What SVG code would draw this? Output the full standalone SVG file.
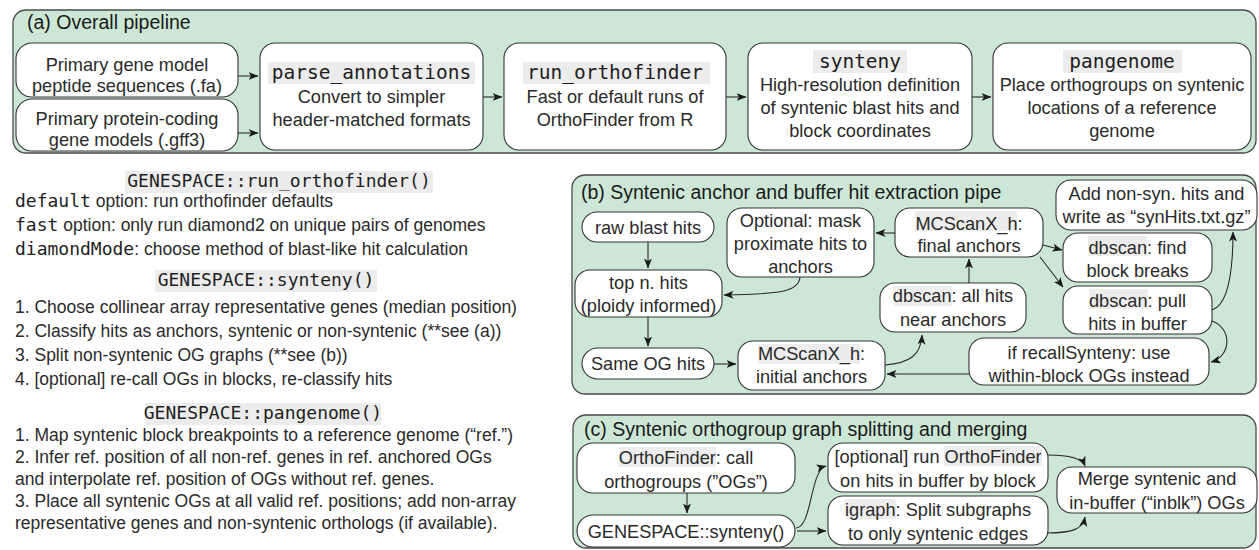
<svg xmlns="http://www.w3.org/2000/svg" width="1259" height="550" viewBox="0 0 1259 550">
<style>
.panel{fill:#cde7d6;stroke:#4a4a4a;stroke-width:1.3}
.node{fill:#ffffff;stroke:#333;stroke-width:1.1}
.t{font-family:"Liberation Sans",Arial,sans-serif;font-size:18.2px;fill:#2a2a2a;text-anchor:middle}
.title{font-family:"Liberation Sans",Arial,sans-serif;font-size:19.5px;fill:#1a1a1a}
.lt{font-family:"Liberation Sans",Arial,sans-serif;font-size:17.5px;fill:#2a2a2a}
.code{font-family:"DejaVu Sans Mono","Liberation Mono",monospace;fill:#1e1e1e}
.hl{fill:#ececec}
.hlw{fill:#ededed}
.edge{fill:none;stroke:#2a2a2a;stroke-width:1.1}
</style>
<defs>
<marker id="ah" viewBox="0 0 10 8" refX="9.5" refY="4" markerWidth="10" markerHeight="8" markerUnits="userSpaceOnUse" orient="auto">
<path d="M0,0 L10,4 L0,8 L2.5,4 z" fill="#1a1a1a"/>
</marker>
</defs>

<!-- Panel (a) -->
<g id="panel-a">
<rect class="panel" x="13" y="10" width="1243" height="143" rx="13"/>
<text class="title" x="27" y="29">(a) Overall pipeline</text>
</g>
<g id="a-input1">
<rect class="node" x="16" y="43" width="222" height="54" rx="16"/>
<text class="t" x="127" y="71">Primary gene model</text>
<text class="t" x="127" y="92">peptide sequences (.fa)</text>
</g>
<g id="a-input2">
<rect class="node" x="16" y="99" width="222" height="52" rx="16"/>
<text class="t" x="127" y="125">Primary protein-coding</text>
<text class="t" x="127" y="146">gene models (.gff3)</text>
</g>
<g id="a-parse">
<rect class="node" x="260" y="43" width="223" height="107" rx="15"/>
<rect class="hl" x="268" y="62" width="207" height="22"/>
<text class="code" x="371.5" y="79" font-size="19.5" text-anchor="middle">parse_annotations</text>
<text class="t" x="371.5" y="103">Convert to simpler</text>
<text class="t" x="371.5" y="126">header-matched formats</text>
</g>
<g id="a-runof">
<rect class="node" x="504" y="43" width="222" height="107" rx="15"/>
<rect class="hl" x="523" y="62" width="187" height="22"/>
<text class="code" x="615" y="79" font-size="19.5" text-anchor="middle">run_orthofinder</text>
<text class="t" x="615" y="103">Fast or default runs of</text>
<text class="t" x="615" y="126">OrthoFinder from R</text>
</g>
<g id="a-synteny">
<rect class="node" x="748" y="43" width="224" height="107" rx="15"/>
<rect class="hl" x="813" y="50" width="94" height="23"/>
<text class="code" x="860" y="68" font-size="19.5" text-anchor="middle">synteny</text>
<text class="t" x="860" y="91">High-resolution definition</text>
<text class="t" x="860" y="114">of syntenic blast hits and</text>
<text class="t" x="860" y="137">block coordinates</text>
</g>
<g id="a-pangenome">
<rect class="node" x="993" y="43" width="258" height="107" rx="15"/>
<rect class="hl" x="1063" y="50" width="119" height="23"/>
<text class="code" x="1122" y="68" font-size="19.5" text-anchor="middle">pangenome</text>
<text class="t" x="1122" y="91">Place orthogroups on syntenic</text>
<text class="t" x="1122" y="114">locations of a reference</text>
<text class="t" x="1122" y="137">genome</text>
</g>

<!-- Left text -->
<g id="left-text">
<rect class="hl" x="125" y="171" width="308" height="22"/>
<text class="code" x="279" y="187" font-size="18" text-anchor="middle">GENESPACE::run_orthofinder()</text>
<text class="lt" x="15" y="207"><tspan class="code" font-size="18">default</tspan> option: run orthofinder defaults</text>
<text class="lt" x="15" y="231"><tspan class="code" font-size="18">fast</tspan> option: only run diamond2 on unique pairs of genomes</text>
<text class="lt" x="15" y="255"><tspan class="code" font-size="18">diamondMode</tspan>: choose method of blast-like hit calculation</text>
<rect class="hl" x="155" y="270" width="222" height="22"/>
<text class="code" x="266" y="286" font-size="18" text-anchor="middle">GENESPACE::synteny()</text>
<text class="lt" x="15" y="313">1. Choose collinear array representative genes (median position)</text>
<text class="lt" x="15" y="337">2. Classify hits as anchors, syntenic or non-syntenic (**see (a))</text>
<text class="lt" x="15" y="361">3. Split non-syntenic OG graphs (**see (b))</text>
<text class="lt" x="15" y="385">4. [optional] re-call OGs in blocks, re-classify hits</text>
<rect class="hl" x="145" y="403" width="236" height="22"/>
<text class="code" x="263" y="419" font-size="18" text-anchor="middle">GENESPACE::pangenome()</text>
<text class="lt" x="15" y="441">1. Map syntenic block breakpoints to a reference genome (“ref.”)</text>
<text class="lt" x="15" y="463">2. Infer ref. position of all non-ref. genes in ref. anchored OGs</text>
<text class="lt" x="15" y="485">and interpolate ref. position of OGs without ref. genes.</text>
<text class="lt" x="15" y="507">3. Place all syntenic OGs at all valid ref. positions; add non-array</text>
<text class="lt" x="15" y="529">representative genes and non-syntenic orthologs (if available).</text>
</g>

<!-- Panel (b) -->
<g id="panel-b">
<rect class="panel" x="572" y="175" width="684" height="219" rx="13"/>
<text class="title" x="581" y="199">(b) Syntenic anchor and buffer hit extraction pipe</text>
</g>
<g id="b-raw">
<rect class="node" x="582" y="212" width="132" height="30" rx="15"/>
<text class="t" x="648" y="233.5">raw blast hits</text>
</g>
<g id="b-mask">
<rect class="node" x="727" y="208" width="147" height="69" rx="15"/>
<text class="t" x="800.5" y="226.5">Optional: mask</text>
<text class="t" x="800.5" y="250">proximate hits to</text>
<text class="t" x="800.5" y="273">anchors</text>
</g>
<g id="b-topn">
<rect class="node" x="575" y="270" width="147" height="47" rx="15"/>
<text class="t" x="648.5" y="288.5">top n. hits</text>
<text class="t" x="648.5" y="311.5">(ploidy informed)</text>
</g>
<g id="b-sameog">
<rect class="node" x="582" y="348" width="132" height="31" rx="15.5"/>
<text class="t" x="648" y="370">Same OG hits</text>
</g>
<g id="b-mcinit">
<rect class="node" x="738" y="341" width="147" height="49" rx="15"/>
<rect class="hlw" x="758" y="344" width="102" height="20"/>
<text class="t" x="811.5" y="359.5">MCScanX_h:</text>
<text class="t" x="811.5" y="383">initial anchors</text>
</g>
<g id="b-dball">
<rect class="node" x="880" y="283" width="146" height="49" rx="15"/>
<rect class="hlw" x="893" y="286" width="59" height="20"/>
<text class="t" x="953" y="301.5">dbscan: all hits</text>
<text class="t" x="953" y="326">near anchors</text>
</g>
<g id="b-mcfinal">
<rect class="node" x="895" y="208" width="148" height="49" rx="15"/>
<rect class="hlw" x="915" y="211" width="102" height="20"/>
<text class="t" x="969" y="229.5">MCScanX_h:</text>
<text class="t" x="969" y="252">final anchors</text>
</g>
<g id="b-addnonsyn">
<rect class="node" x="1056" y="180" width="201" height="50" rx="15"/>
<text class="t" x="1156.5" y="199.5">Add non-syn. hits and</text>
<text class="t" x="1156.5" y="223">write as “synHits.txt.gz”</text>
</g>
<g id="b-dbfind">
<rect class="node" x="1063" y="233" width="149" height="49" rx="15"/>
<rect class="hlw" x="1088" y="236" width="59" height="20"/>
<text class="t" x="1137.5" y="253.5">dbscan: find</text>
<text class="t" x="1137.5" y="276.5">block breaks</text>
</g>
<g id="b-dbpull">
<rect class="node" x="1063" y="286" width="149" height="48" rx="15"/>
<rect class="hlw" x="1089" y="289" width="59" height="20"/>
<text class="t" x="1137.5" y="306.5">dbscan: pull</text>
<text class="t" x="1137.5" y="329.5">hits in buffer</text>
</g>
<g id="b-recall">
<rect class="node" x="969" y="338" width="240" height="47" rx="15"/>
<text class="t" x="1089" y="359">if recallSynteny: use</text>
<text class="t" x="1089" y="382">within-block OGs instead</text>
</g>

<!-- Panel (c) -->
<g id="panel-c">
<rect class="panel" x="573" y="415" width="683" height="133" rx="13"/>
<text class="title" x="584" y="436">(c) Syntenic orthogroup graph splitting and merging</text>
</g>
<g id="c-orthofinder">
<rect class="node" x="577" y="443" width="218" height="50" rx="16"/>
<rect class="hlw" x="619" y="447" width="97" height="20"/>
<text class="t" x="686" y="464">OrthoFinder: call</text>
<text class="t" x="686" y="488">orthogroups (”OGs”)</text>
</g>
<g id="c-synteny">
<rect class="node" x="577" y="515" width="218" height="32" rx="16"/>
<text class="t" x="686" y="538">GENESPACE::synteny()</text>
</g>
<g id="c-optional">
<rect class="node" x="828" y="443" width="220" height="49" rx="15"/>
<rect class="hlw" x="944" y="446" width="98" height="20"/>
<text class="t" x="938" y="463">[optional] run OrthoFinder</text>
<text class="t" x="938" y="486.5">on hits in buffer by block</text>
</g>
<g id="c-igraph">
<rect class="node" x="828" y="496" width="220" height="49" rx="15"/>
<rect class="hlw" x="845" y="499" width="51" height="20"/>
<text class="t" x="938" y="516">igraph: Split subgraphs</text>
<text class="t" x="938" y="539.5">to only syntenic edges</text>
</g>
<g id="c-merge">
<rect class="node" x="1057" y="467" width="200" height="46" rx="15"/>
<text class="t" x="1157" y="485">Merge syntenic and</text>
<text class="t" x="1157" y="509">in-buffer (“inblk”) OGs</text>
</g>

<!-- Connectors -->
<g id="connectors" marker-end="url(#ah)">
<path class="edge" d="M238,76 H258"/>
<path class="edge" d="M238,133 H258"/>
<path class="edge" d="M483,97 H502"/>
<path class="edge" d="M726,97 H746"/>
<path class="edge" d="M972,97 H991"/>

<path class="edge" d="M648,242 V268"/>
<path class="edge" d="M648,317 V346"/>
<path class="edge" d="M714,364 H736"/>
<path class="edge" d="M885,365 C910,363 921,355 922,335"/>
<path class="edge" d="M969,283 V259"/>
<path class="edge" d="M895,233 H876"/>
<path class="edge" d="M800,277 C799,292 780,294 724,295"/>
<path class="edge" d="M1043,245 L1062,250"/>
<path class="edge" d="M1040,257 L1063,287"/>
<path class="edge" d="M1212,310 C1228,305 1233,270 1233,232"/>
<path class="edge" d="M1212,321 C1232,328 1232,356 1211,362"/>
<path class="edge" d="M969,374 H887"/>

<path class="edge" d="M687,493 V513"/>
<path class="edge" d="M796,528 C812,528 810,470 826,466"/>
<path class="edge" d="M797,531 H826"/>
<path class="edge" d="M1048,455 C1070,455 1082,458 1085,466"/>
<path class="edge" d="M1047,533 C1075,533 1083,528 1085,517"/>
</g>
</svg>
